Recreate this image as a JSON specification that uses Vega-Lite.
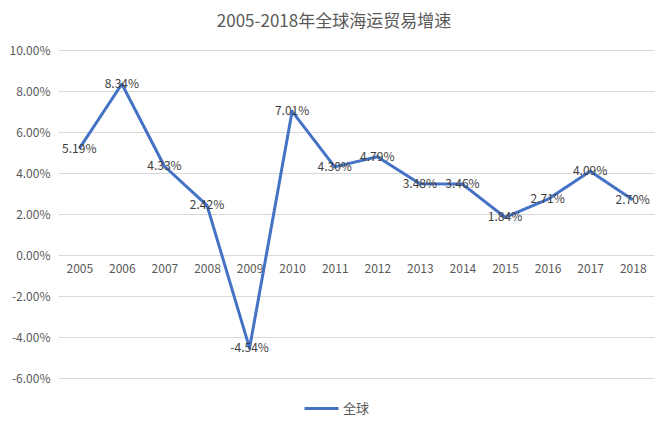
{
  "$schema": "https://vega.github.io/schema/vega-lite/v6.json",
  "width": 596,
  "height": 328,
  "autosize": "none",
  "padding": {"left": 58, "top": 50, "right": 11, "bottom": 43},
  "background": "white",
  "config": {
    "locale": {"number": {"decimal": ".", "thousands": ",", "grouping": [3], "currency": ["$", ""], "minus": "-"}},
    "font": "Noto Sans CJK SC",
    "view": {"stroke": null},
    "axis": {"labelColor": "#595959", "labelFontSize": 12, "labelFont": "Noto Sans CJK SC", "gridColor": "#D9D9D9", "gridWidth": 1, "domain": false, "ticks": false, "title": null}
  },
  "title": {"text": "2005-2018年全球海运贸易增速", "fontSize": 17, "fontWeight": "normal", "color": "#595959", "anchor": "middle", "dx": -22, "offset": 13, "font": "Noto Sans CJK SC"},
  "data": {"values": [
    {"year": "2005", "series": "全球", "growth": 0.0519},
    {"year": "2006", "series": "全球", "growth": 0.0834},
    {"year": "2007", "series": "全球", "growth": 0.0433},
    {"year": "2008", "series": "全球", "growth": 0.0242},
    {"year": "2009", "series": "全球", "growth": -0.0454},
    {"year": "2010", "series": "全球", "growth": 0.0701},
    {"year": "2011", "series": "全球", "growth": 0.0430},
    {"year": "2012", "series": "全球", "growth": 0.0479},
    {"year": "2013", "series": "全球", "growth": 0.0348},
    {"year": "2014", "series": "全球", "growth": 0.0346},
    {"year": "2015", "series": "全球", "growth": 0.0184},
    {"year": "2016", "series": "全球", "growth": 0.0271},
    {"year": "2017", "series": "全球", "growth": 0.0409},
    {"year": "2018", "series": "全球", "growth": 0.0270}
  ]},
  "encoding": {
    "x": {"field": "year", "type": "ordinal", "scale": {"type": "point", "padding": 0.5},
          "axis": {"labelAngle": 0, "grid": false, "offset": -123, "labelPadding": 8}},
    "y": {"field": "growth", "type": "quantitative", "scale": {"domain": [-0.06, 0.10], "nice": false},
          "axis": {"values": [-0.06, -0.04, -0.02, 0, 0.02, 0.04, 0.06, 0.08, 0.10], "format": ".2%", "labelPadding": 8}}
  },
  "layer": [
    {
      "mark": {"type": "line", "strokeWidth": 3, "strokeJoin": "round"},
      "encoding": {
        "color": {"field": "series", "type": "nominal", "scale": {"range": ["#4472C4"]},
                  "legend": {"title": null, "orient": "none", "legendX": 245, "legendY": 340, "symbolType": "stroke", "symbolSize": 1150, "symbolStrokeWidth": 3, "labelOffset": 3, "labelFontSize": 13, "labelColor": "#595959", "labelFont": "Noto Sans CJK SC"}}
      }
    },
    {
      "mark": {"type": "text", "align": "center", "baseline": "middle", "fontSize": 12, "color": "#404040"},
      "encoding": {"text": {"field": "growth", "type": "quantitative", "format": ".2%"}}
    }
  ]
}
